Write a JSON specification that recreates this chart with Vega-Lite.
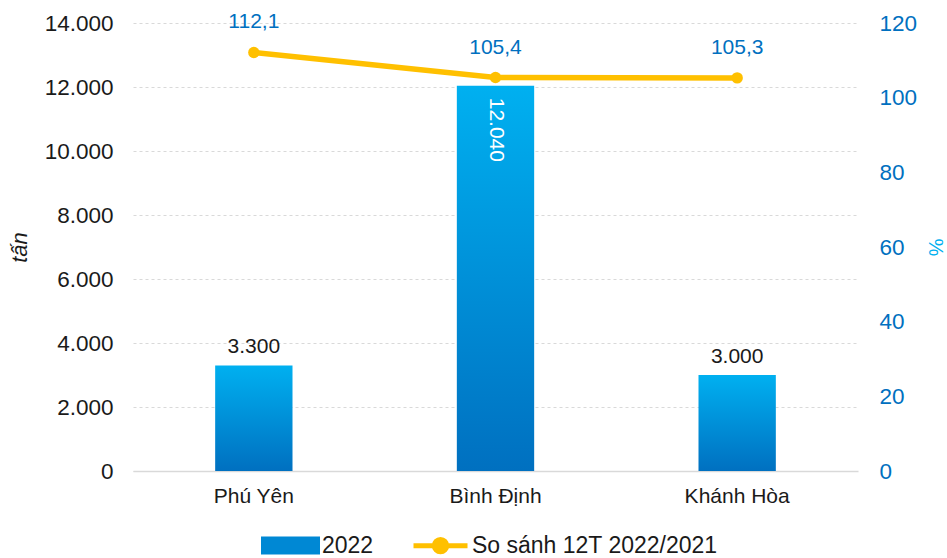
{
  "$schema": "https://vega.github.io/schema/vega-lite/v6.json",
  "width": 725,
  "height": 448,
  "autosize": {"type": "none"},
  "padding": {"left": 133, "top": 23, "right": 89, "bottom": 87},
  "background": "#ffffff",
  "config": {
    "locale": {"number": {"decimal": ",", "thousands": ".", "grouping": [3], "currency": ["", ""]}},
    "font": "Liberation Sans",
    "view": {"stroke": null}
  },
  "data": {
    "values": [
      {"region": "Phú Yên", "tons": 3300, "pct": 112.1},
      {"region": "Bình Định", "tons": 12040, "pct": 105.4},
      {"region": "Khánh Hòa", "tons": 3000, "pct": 105.3}
    ]
  },
  "encoding": {
    "x": {
      "field": "region",
      "type": "nominal",
      "sort": null,
      "scale": {"paddingInner": 0.68, "paddingOuter": 0.34},
      "axis": {
        "title": null,
        "labelAngle": 0,
        "labelFontSize": 21,
        "labelColor": "#1a1a1a",
        "labelPadding": 14,
        "ticks": false,
        "domainColor": "#D9D9D9",
        "domainWidth": 1.5,
        "grid": false
      }
    }
  },
  "layer": [
    {
      "encoding": {
        "y": {
          "field": "tons",
          "type": "quantitative",
          "scale": {"domain": [0, 14000], "nice": false},
          "axis": {
            "title": "tấn",
            "titleFontSize": 22,
            "titleFontStyle": "italic",
            "titleFontWeight": "normal",
            "titleColor": "#1a1a1a",
            "titlePadding": 13,
            "values": [0, 2000, 4000, 6000, 8000, 10000, 12000, 14000],
            "format": ",.0f",
            "labelFontSize": 22.5,
            "labelColor": "#1a1a1a",
            "labelPadding": 20,
            "ticks": false,
            "domain": false,
            "grid": true,
            "gridColor": "#D9D9D9",
            "gridDash": [3, 3],
            "gridWidth": 1
          }
        }
      },
      "layer": [
        {
          "mark": {
            "type": "bar",
            "fill": {
              "gradient": "linear",
              "x1": 0, "y1": 0, "x2": 0, "y2": 1,
              "stops": [
                {"offset": 0, "color": "#00B0F0"},
                {"offset": 1, "color": "#0070C0"}
              ]
            }
          }
        },
        {
          "transform": [{"filter": "datum.tons < 10000"}],
          "mark": {"type": "text", "baseline": "bottom", "dy": -8, "fontSize": 21, "color": "#1a1a1a"},
          "encoding": {"text": {"field": "tons", "type": "quantitative", "format": ",.0f"}}
        },
        {
          "transform": [{"filter": "datum.tons >= 10000"}],
          "mark": {"type": "text", "angle": 90, "align": "left", "baseline": "middle", "dx": 12, "fontSize": 21, "color": "#ffffff"},
          "encoding": {"text": {"field": "tons", "type": "quantitative", "format": ",.0f"}}
        }
      ]
    },
    {
      "encoding": {
        "y": {
          "field": "pct",
          "type": "quantitative",
          "scale": {"domain": [0, 120], "nice": false},
          "axis": {
            "orient": "right",
            "title": "%",
            "titleFontSize": 20,
            "titleFontWeight": "normal",
            "titleColor": "#00B0F0",
            "titlePadding": 8,
            "values": [0, 20, 40, 60, 80, 100, 120],
            "labelFontSize": 22.5,
            "labelColor": "#0070C0",
            "labelPadding": 21,
            "ticks": false,
            "domain": false,
            "grid": false
          }
        }
      },
      "layer": [
        {
          "mark": {
            "type": "line",
            "strokeWidth": 5.5,
            "point": {"filled": true, "size": 130}
          },
          "encoding": {
            "color": {
              "datum": "So sánh 12T 2022/2021",
              "scale": {"domain": ["2022", "So sánh 12T 2022/2021"], "range": ["#0088D4", "#FFC000"]},
              "legend": {
                "title": null,
                "orient": "none",
                "legendX": 128,
                "legendY": 493,
                "direction": "horizontal",
                "labelFontSize": 23,
                "labelColor": "#1a1a1a",
                "labelLimit": 500,
                "labelOffset": 2,
                "columnPadding": 29,
                "symbolSize": 2916,
                "symbolStrokeWidth": 5,
                "encode": {
                  "symbols": {
                    "update": {
                      "shape": {"signal": "datum.value === '2022' ? 'M-1,-0.24H1V0.24H-1Z' : 'M-1,0H1M-0.23,0A0.23,0.23,0,1,0,0.23,0A0.23,0.23,0,1,0,-0.23,0'"},
                      "fill": [
                        {"test": "datum.value === '2022'", "value": {"gradient": "linear", "x1": 0, "y1": 0, "x2": 0, "y2": 1, "stops": [{"offset": 0, "color": "#00B0F0"}, {"offset": 1, "color": "#0070C0"}]}},
                        {"value": "#FFC000"}
                      ],
                      "stroke": {"signal": "datum.value === '2022' ? 'transparent' : '#FFC000'"},
                      "strokeWidth": {"value": 5},
                      "opacity": {"value": 1}
                    }
                  }
                }
              }
            }
          }
        },
        {
          "mark": {"type": "text", "baseline": "middle", "dy": -30, "fontSize": 21, "color": "#0070C0"},
          "encoding": {"text": {"field": "pct", "type": "quantitative", "format": ".1f"}}
        }
      ]
    }
  ],
  "resolve": {"scale": {"y": "independent"}}
}
